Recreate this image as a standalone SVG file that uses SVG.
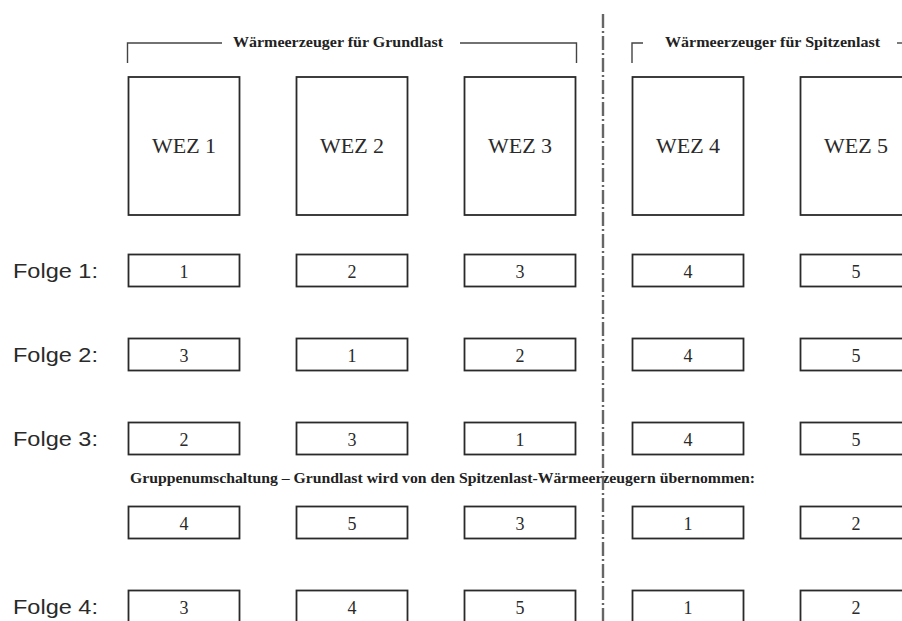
<svg xmlns="http://www.w3.org/2000/svg" width="902" height="621" viewBox="0 0 902 621">
<style>
.big{fill:#fff;stroke:#2a2a2a;stroke-width:1.8}
.sm{fill:#fff;stroke:#2a2a2a;stroke-width:1.8}
.wez{font-family:"Liberation Serif","Times New Roman",serif;font-size:22px;fill:#2a2a2a;text-anchor:middle}
.num{font-family:"Liberation Serif","Times New Roman",serif;font-size:18px;fill:#2a2a2a;text-anchor:middle}
.lbl{font-family:"Liberation Sans",Arial,sans-serif;font-size:21px;fill:#2a2a2a}
.hdr{font-family:"Liberation Serif","Times New Roman",serif;font-size:14px;font-weight:bold;fill:#222}
.br{fill:none;stroke:#444;stroke-width:1.4}
.axis{fill:none;stroke:#666;stroke-width:2.4;stroke-dasharray:14 3 2 3}
</style>
<rect width="902" height="621" fill="#fff"/>

<g id="headers">
<text class="hdr" x="233" y="47" textLength="210" lengthAdjust="spacingAndGlyphs">Wärmeerzeuger für Grundlast</text>
<text class="hdr" x="665" y="47" textLength="215" lengthAdjust="spacingAndGlyphs">Wärmeerzeuger für Spitzenlast</text>
<text class="hdr" x="130" y="483" textLength="625" lengthAdjust="spacingAndGlyphs">Gruppenumschaltung – Grundlast wird von den Spitzenlast-Wärmeerzeugern übernommen:</text>
</g>

<g id="wez1"><rect class="big" x="128.5" y="77" width="111" height="138"/><text class="wez" x="184" y="153">WEZ 1</text></g>
<g id="wez2"><rect class="big" x="296.5" y="77" width="111" height="138"/><text class="wez" x="352" y="153">WEZ 2</text></g>
<g id="wez3"><rect class="big" x="464.5" y="77" width="111" height="138"/><text class="wez" x="520" y="153">WEZ 3</text></g>
<g id="wez4"><rect class="big" x="632.5" y="77" width="111" height="138"/><text class="wez" x="688" y="153">WEZ 4</text></g>
<g id="wez5"><rect class="big" x="800.5" y="77" width="111" height="138"/><text class="wez" x="856" y="153">WEZ 5</text></g>

<g id="labels">
<text class="lbl" x="13" y="278" textLength="85" lengthAdjust="spacingAndGlyphs">Folge 1:</text>
<text class="lbl" x="13" y="362" textLength="85" lengthAdjust="spacingAndGlyphs">Folge 2:</text>
<text class="lbl" x="13" y="446" textLength="85" lengthAdjust="spacingAndGlyphs">Folge 3:</text>
<text class="lbl" x="13" y="614" textLength="85" lengthAdjust="spacingAndGlyphs">Folge 4:</text>
</g>

<g id="row1">
<g id="r1c1"><rect class="sm" x="128.5" y="254.5" width="111" height="32"/><text class="num" x="184" y="278">1</text></g>
<g id="r1c2"><rect class="sm" x="296.5" y="254.5" width="111" height="32"/><text class="num" x="352" y="278">2</text></g>
<g id="r1c3"><rect class="sm" x="464.5" y="254.5" width="111" height="32"/><text class="num" x="520" y="278">3</text></g>
<g id="r1c4"><rect class="sm" x="632.5" y="254.5" width="111" height="32"/><text class="num" x="688" y="278">4</text></g>
<g id="r1c5"><rect class="sm" x="800.5" y="254.5" width="111" height="32"/><text class="num" x="856" y="278">5</text></g>
</g>
<g id="row2">
<g id="r2c1"><rect class="sm" x="128.5" y="338.5" width="111" height="32"/><text class="num" x="184" y="362">3</text></g>
<g id="r2c2"><rect class="sm" x="296.5" y="338.5" width="111" height="32"/><text class="num" x="352" y="362">1</text></g>
<g id="r2c3"><rect class="sm" x="464.5" y="338.5" width="111" height="32"/><text class="num" x="520" y="362">2</text></g>
<g id="r2c4"><rect class="sm" x="632.5" y="338.5" width="111" height="32"/><text class="num" x="688" y="362">4</text></g>
<g id="r2c5"><rect class="sm" x="800.5" y="338.5" width="111" height="32"/><text class="num" x="856" y="362">5</text></g>
</g>
<g id="row3">
<g id="r3c1"><rect class="sm" x="128.5" y="422.5" width="111" height="32"/><text class="num" x="184" y="446">2</text></g>
<g id="r3c2"><rect class="sm" x="296.5" y="422.5" width="111" height="32"/><text class="num" x="352" y="446">3</text></g>
<g id="r3c3"><rect class="sm" x="464.5" y="422.5" width="111" height="32"/><text class="num" x="520" y="446">1</text></g>
<g id="r3c4"><rect class="sm" x="632.5" y="422.5" width="111" height="32"/><text class="num" x="688" y="446">4</text></g>
<g id="r3c5"><rect class="sm" x="800.5" y="422.5" width="111" height="32"/><text class="num" x="856" y="446">5</text></g>
</g>
<g id="rowG">
<g id="rgc1"><rect class="sm" x="128.5" y="506.5" width="111" height="32"/><text class="num" x="184" y="530">4</text></g>
<g id="rgc2"><rect class="sm" x="296.5" y="506.5" width="111" height="32"/><text class="num" x="352" y="530">5</text></g>
<g id="rgc3"><rect class="sm" x="464.5" y="506.5" width="111" height="32"/><text class="num" x="520" y="530">3</text></g>
<g id="rgc4"><rect class="sm" x="632.5" y="506.5" width="111" height="32"/><text class="num" x="688" y="530">1</text></g>
<g id="rgc5"><rect class="sm" x="800.5" y="506.5" width="111" height="32"/><text class="num" x="856" y="530">2</text></g>
</g>
<g id="row4">
<g id="r4c1"><rect class="sm" x="128.5" y="590.5" width="111" height="34"/><text class="num" x="184" y="614">3</text></g>
<g id="r4c2"><rect class="sm" x="296.5" y="590.5" width="111" height="34"/><text class="num" x="352" y="614">4</text></g>
<g id="r4c3"><rect class="sm" x="464.5" y="590.5" width="111" height="34"/><text class="num" x="520" y="614">5</text></g>
<g id="r4c4"><rect class="sm" x="632.5" y="590.5" width="111" height="34"/><text class="num" x="688" y="614">1</text></g>
<g id="r4c5"><rect class="sm" x="800.5" y="590.5" width="111" height="34"/><text class="num" x="856" y="614">2</text></g>
</g>

<g id="connectors">
<path class="br" d="M127.5,63 V43 H222"/>
<path class="br" d="M460,43 H576.5 V63"/>
<path class="br" d="M632,63 V43 H643"/>
<path class="br" d="M897,43 H902"/>
<path class="axis" d="M603,14 V621"/>
</g>
</svg>
